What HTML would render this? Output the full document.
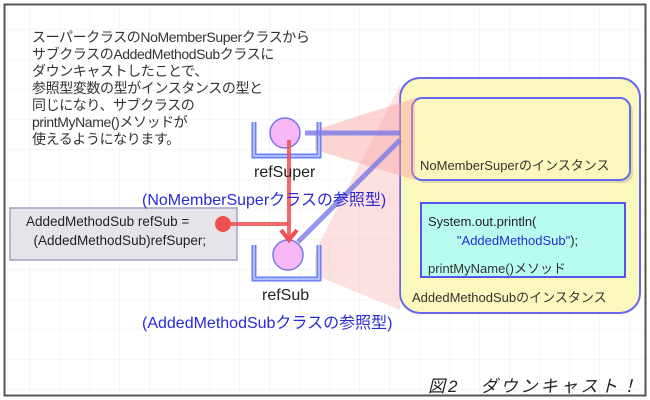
<!DOCTYPE html>
<html><head><meta charset="utf-8"><style>
body{margin:0;width:650px;height:400px;overflow:hidden;background:#fff;font-family:"Liberation Sans","Noto Sans CJK JP",sans-serif}
.t{position:absolute;white-space:nowrap}
</style></head><body>
<svg width="650" height="400" style="position:absolute;left:0;top:0">
<defs><pattern id="g" width="30" height="30" patternUnits="userSpaceOnUse"><path d="M30 0V30H0" fill="none" stroke="#eeeeee" stroke-width="1"/></pattern></defs>
<rect x="0" y="0" width="650" height="400" fill="#fff"/>
<rect x="5" y="5" width="640" height="390" fill="url(#g)"/>
<rect x="4.5" y="4.5" width="641" height="391" fill="none" stroke="#555" stroke-width="2"/>
<rect x="400" y="78" width="240" height="235" rx="20" fill="#fbf8be" stroke="#6666ee" stroke-width="2"/>
<rect x="415" y="101" width="218" height="82" rx="10" fill="#c8c69a" opacity="0.6"/>
<rect x="412" y="98" width="218" height="82" rx="10" fill="#fbf8be" stroke="#6666ee" stroke-width="2"/>
<rect x="421" y="203" width="204" height="74" fill="#b8fbef" stroke="#5555ee" stroke-width="2"/>
<polygon points="315,130 415,98 415,180 315,150" fill="#f8a0a0" opacity="0.45"/>
<polygon points="315,252 400,85 400,310 315,275" fill="#f8a8a8" opacity="0.35"/>
<rect x="10" y="208" width="227" height="52" fill="#e4e4ea" stroke="#a0a0c0" stroke-width="1.5"/>
<path d="M254 122V156H319V122" fill="none" stroke="#6a80f8" stroke-width="5"/>
<path d="M254 122V156H319V122" fill="none" stroke="#c8d2ff" stroke-width="1.5"/>
<path d="M254 245V279H319V245" fill="none" stroke="#6a80f8" stroke-width="5"/>
<path d="M254 245V279H319V245" fill="none" stroke="#c8d2ff" stroke-width="1.5"/>
<circle cx="285" cy="133" r="15" fill="#f8b8f8" stroke="#7777ee" stroke-width="1.5"/>
<circle cx="288" cy="255" r="15" fill="#f8b8f8" stroke="#7777ee" stroke-width="1.5"/>
<line x1="305" y1="133" x2="400" y2="133" stroke="#7a7ae8" stroke-width="5" opacity="0.8"/>
<line x1="298" y1="242" x2="400" y2="140" stroke="#7a7ae8" stroke-width="5" opacity="0.8"/>
<line x1="289" y1="140" x2="289" y2="238" stroke="#f25050" stroke-width="4" opacity="0.85"/>
<path d="M281 230L289 240L297 230" fill="none" stroke="#f25050" stroke-width="4"/>
<line x1="223" y1="224" x2="289" y2="224" stroke="#f25050" stroke-width="4" opacity="0.85"/>
<circle cx="223" cy="224" r="8" fill="#f25050"/>
</svg>
<div class="t" style="left:32px;top:29px;font-size:14px;line-height:17px;color:#333;letter-spacing:-0.4px">スーパークラスのNoMemberSuperクラスから<br>サブクラスのAddedMethodSubクラスに<br>ダウンキャストしたことで、<br>参照型変数の型がインスタンスの型と<br>同じになり、サブクラスの<br>printMyName()メソッドが<br>使えるようになります。</div>
<div class="t" style="left:254px;top:164px;font-size:16px;color:#222">refSuper</div>
<div class="t" style="left:142px;top:186px;font-size:16px;color:#2a2ad8">(NoMemberSuperクラスの参照型)</div>
<div class="t" style="left:262px;top:287px;font-size:16px;color:#222">refSub</div>
<div class="t" style="left:142px;top:309px;font-size:16px;color:#2a2ad8">(AddedMethodSubクラスの参照型)</div>
<div class="t" style="left:26px;top:212px;font-size:13.5px;line-height:19px;color:#222">AddedMethodSub refSub =<br>&nbsp;&nbsp;(AddedMethodSub)refSuper;</div>
<div class="t" style="left:420px;top:155px;font-size:13px;color:#333">NoMemberSuperのインスタンス</div>
<div class="t" style="left:428px;top:212px;font-size:13px;line-height:19px;color:#222">System.out.println(<br>&nbsp;&nbsp;&nbsp;&nbsp;&nbsp;&nbsp;&nbsp;&nbsp;<span style="color:#2a2ad8">"AddedMethodSub"</span>);</div>
<div class="t" style="left:428px;top:258px;font-size:13px;color:#333">printMyName()メソッド</div>
<div class="t" style="left:412px;top:287px;font-size:13px;color:#333">AddedMethodSubのインスタンス</div>
<div class="t" style="left:428px;top:372px;font-size:17px;font-style:italic;color:#222;letter-spacing:3px">図2　ダウンキャスト！</div>
</body></html>
